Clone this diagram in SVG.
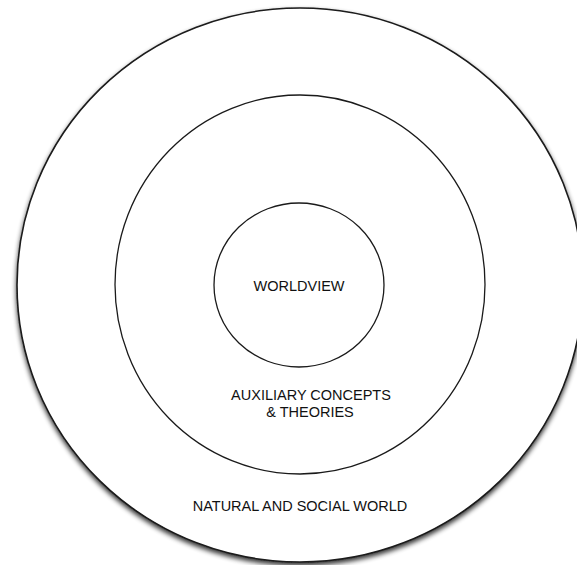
<svg xmlns="http://www.w3.org/2000/svg" width="577" height="565" viewBox="0 0 577 565">
<style>
.ring{fill:none;stroke:#1a1a1a;stroke-width:1.3}
.outer{fill:#fff;stroke:#1a1a1a;stroke-width:1.6}
.lbl{font-family:"Liberation Sans",Arial,Helvetica,sans-serif;font-size:14.5px;fill:#111;text-anchor:middle}
</style>
<defs>
<filter id="sh" x="-10%" y="-10%" width="120%" height="120%">
<feGaussianBlur in="SourceAlpha" stdDeviation="2.5" result="b"/>
<feOffset in="b" dx="0" dy="3" result="o"/>
<feComponentTransfer in="o" result="s"><feFuncA type="linear" slope="0.8"/></feComponentTransfer>
<feMerge><feMergeNode in="s"/><feMergeNode in="SourceGraphic"/></feMerge>
</filter>
</defs>
<rect width="577" height="565" fill="#fff"/>
<g id="natural-social-world">
<ellipse class="outer" cx="300" cy="285" rx="283" ry="277" filter="url(#sh)"/>
<text class="lbl" x="300" y="511">NATURAL AND SOCIAL WORLD</text>
</g>
<g id="auxiliary-concepts">
<ellipse class="ring" cx="300" cy="284.5" rx="185" ry="189.5"/>
<text class="lbl" x="311" y="400">AUXILIARY CONCEPTS</text>
<text class="lbl" x="310" y="417">&amp; THEORIES</text>
</g>
<g id="worldview">
<ellipse class="ring" cx="299" cy="285" rx="85" ry="82"/>
<text class="lbl" x="299" y="291">WORLDVIEW</text>
</g>
<g id="connectors"/>
</svg>
